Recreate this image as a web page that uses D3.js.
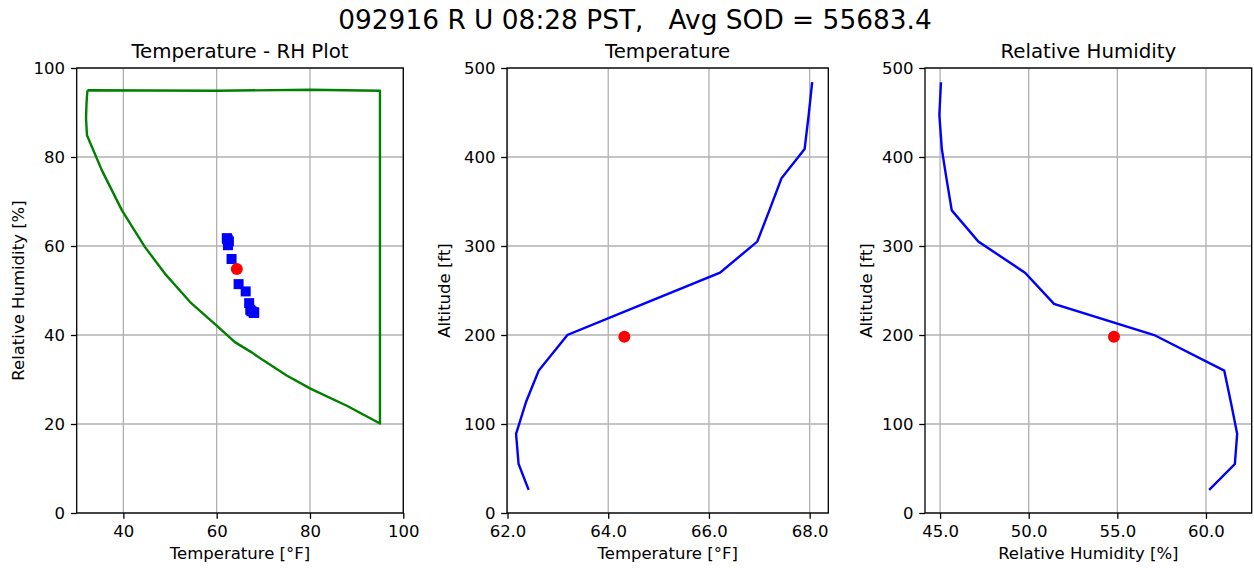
<!DOCTYPE html>
<html>
<head>
<meta charset="utf-8">
<script src="https://cdn.jsdelivr.net/npm/d3@7"></script>
<style>
  body { margin: 0; background: #fff; }
  svg { display: block; font-family: "DejaVu Sans", sans-serif; }
</style>
</head>
<body>
<svg></svg>
<script>
// profile levels
var altitude    = [26, 55, 89, 125, 160, 200, 235, 270, 305, 340, 376, 409, 447, 484];
var temperature = [62.42, 62.22, 62.17, 62.37, 62.62, 63.19, 64.7, 66.22, 66.96, 67.2, 67.44, 67.9, 67.98, 68.05];
var humidity    = [60.18, 61.63, 61.76, 61.4, 61.03, 57.08, 51.43, 49.79, 47.16, 45.66, 45.36, 45.1, 44.96, 45.05];

// averages (red dot)
var avgTemp = 64.32;
var avgRH = 54.81;
var avgAlt = 198;

// green envelope on the T-RH plot
var envTemp = [32.3, 60, 80, 95.0, 95.0, 87.9, 80.2, 75.0, 70.0, 67.5, 63.9, 60.0, 54.3, 48.9, 44.6, 39.7, 35.4, 32.2, 32.0, 32.1, 32.3];
var envRH   = [95.0, 94.9, 95.1, 94.9, 20.1, 24.1, 27.9, 30.9, 34.3, 36.1, 38.4, 42.1, 47.4, 53.8, 59.8, 68.0, 77.0, 84.9, 88.7, 92, 95.0];

// ticks
var trhXTicks = [40, 60, 80, 100];
var trhYTicks = [0, 20, 40, 60, 80, 100];
var altTicks = [0, 100, 200, 300, 400, 500];
var tempTicks = [62, 64, 66, 68];
var rhTicks = [45, 50, 55, 60];

var suptitle = "092916 R U 08:28 PST,   Avg SOD = 55683.4";

var width = 1254;
var height = 568;
var top_ = 68, bottom = 513;
var tickFont = "16.5px";

var svg = d3.select("svg")
    .attr("width", width)
    .attr("height", height);

svg.append("text")
    .attr("x", 635)
    .attr("y", 29)
    .attr("text-anchor", "middle")
    .style("font-size", "26.4px")
    .style("white-space", "pre")
    .text(suptitle);

// draws one subplot frame with grid, ticks, labels, returns the group
function makePanel(left, right, x, y, xt, yt, xfmt, title, xlabel, ylabel, ylabelX) {
    var g = svg.append("g");

    // grid
    g.selectAll(".gx").data(xt).enter().append("line")
        .attr("x1", function(d) { return x(d); })
        .attr("x2", function(d) { return x(d); })
        .attr("y1", top_).attr("y2", bottom)
        .style("stroke", "#b0b0b0").style("stroke-width", 1.3);
    g.selectAll(".gy").data(yt).enter().append("line")
        .attr("x1", left).attr("x2", right)
        .attr("y1", function(d) { return y(d); })
        .attr("y2", function(d) { return y(d); })
        .style("stroke", "#b0b0b0").style("stroke-width", 1.3);

    var xAxis = d3.axisBottom(x).tickValues(xt).tickSize(5.8).tickPadding(5.8).tickSizeOuter(0).tickFormat(xfmt);
    var yAxis = d3.axisLeft(y).tickValues(yt).tickSize(5.8).tickPadding(5.8).tickSizeOuter(0);

    var gx = g.append("g").attr("transform", "translate(0," + bottom + ")").call(xAxis);
    var gy = g.append("g").attr("transform", "translate(" + left + ",0)").call(yAxis);
    [gx, gy].forEach(function(a) {
        a.select(".domain").remove();
        a.selectAll("line").style("stroke", "#000").style("stroke-width", 1.3);
        a.selectAll("text").style("font-size", tickFont).style("font-family", "DejaVu Sans").attr("fill", "#000");
    });
    gx.selectAll("text").attr("dy", "0.76em");

    g.append("text")
        .attr("x", (left + right) / 2)
        .attr("y", 58)
        .attr("text-anchor", "middle")
        .style("font-size", "19.8px")
        .text(title);

    g.append("text")
        .attr("x", (left + right) / 2)
        .attr("y", 559)
        .attr("text-anchor", "middle")
        .style("font-size", tickFont)
        .text(xlabel);

    g.append("text")
        .attr("transform", "translate(" + ylabelX + "," + (top_ + bottom) / 2 + ") rotate(-90)")
        .attr("text-anchor", "middle")
        .attr("dy", "0.35em")
        .style("font-size", tickFont)
        .text(ylabel);

    return g;
}

function frame(g, left, right) {
    g.append("rect")
        .attr("x", left).attr("y", top_)
        .attr("width", right - left).attr("height", bottom - top_)
        .style("fill", "none").style("stroke", "#000").style("stroke-width", 1.3);
}

// ---- panel 1: Temperature - RH Plot
var x1 = d3.scaleLinear().domain([30, 100]).range([76.7, 403.3]);
var y1 = d3.scaleLinear().domain([0, 100]).range([bottom, top_]);
var p1 = makePanel(76.7, 403.3, x1, y1, trhXTicks, trhYTicks, d3.format("d"),
    "Temperature - RH Plot", "Temperature [°F]", "Relative Humidity [%]", 18);

var env = envTemp.map(function(t, i) { return [t, envRH[i]]; });
p1.append("path")
    .datum(env)
    .attr("d", d3.line().x(function(d) { return x1(d[0]); }).y(function(d) { return y1(d[1]); }))
    .style("fill", "none").style("stroke", "green").style("stroke-width", 2.4)
    .style("stroke-linejoin", "round");

var pairs = temperature.map(function(t, i) { return [t, humidity[i]]; });
p1.selectAll(".sq").data(pairs).enter().append("rect")
    .attr("x", function(d) { return x1(d[0]) - 5; })
    .attr("y", function(d) { return y1(d[1]) - 5; })
    .attr("width", 10).attr("height", 10)
    .style("fill", "blue");

p1.append("circle")
    .attr("cx", x1(avgTemp)).attr("cy", y1(avgRH)).attr("r", 6)
    .style("fill", "red");
frame(p1, 76.7, 403.3);

// ---- panel 2: Temperature profile
var x2 = d3.scaleLinear().domain([61.99, 68.37]).range([507, 828.3]);
var y2 = d3.scaleLinear().domain([0, 500]).range([bottom, top_]);
var p2 = makePanel(507, 828.3, x2, y2, tempTicks, altTicks, d3.format(".1f"),
    "Temperature", "Temperature [°F]", "Altitude [ft]", 444);

p2.append("path")
    .datum(altitude.map(function(a, i) { return [temperature[i], a]; }))
    .attr("d", d3.line().x(function(d) { return x2(d[0]); }).y(function(d) { return y2(d[1]); }))
    .style("fill", "none").style("stroke", "blue").style("stroke-width", 2.4);

p2.append("circle")
    .attr("cx", x2(avgTemp)).attr("cy", y2(avgAlt)).attr("r", 6)
    .style("fill", "red");
frame(p2, 507, 828.3);

// ---- panel 3: RH profile
var x3 = d3.scaleLinear().domain([44.15, 62.58]).range([925, 1251.7]);
var y3 = d3.scaleLinear().domain([0, 500]).range([bottom, top_]);
var p3 = makePanel(925, 1251.7, x3, y3, rhTicks, altTicks, d3.format(".1f"),
    "Relative Humidity", "Relative Humidity [%]", "Altitude [ft]", 866);

p3.append("path")
    .datum(altitude.map(function(a, i) { return [humidity[i], a]; }))
    .attr("d", d3.line().x(function(d) { return x3(d[0]); }).y(function(d) { return y3(d[1]); }))
    .style("fill", "none").style("stroke", "blue").style("stroke-width", 2.4);

p3.append("circle")
    .attr("cx", x3(avgRH)).attr("cy", y3(avgAlt)).attr("r", 6)
    .style("fill", "red");
frame(p3, 925, 1251.7);
</script>
</body>
</html>
